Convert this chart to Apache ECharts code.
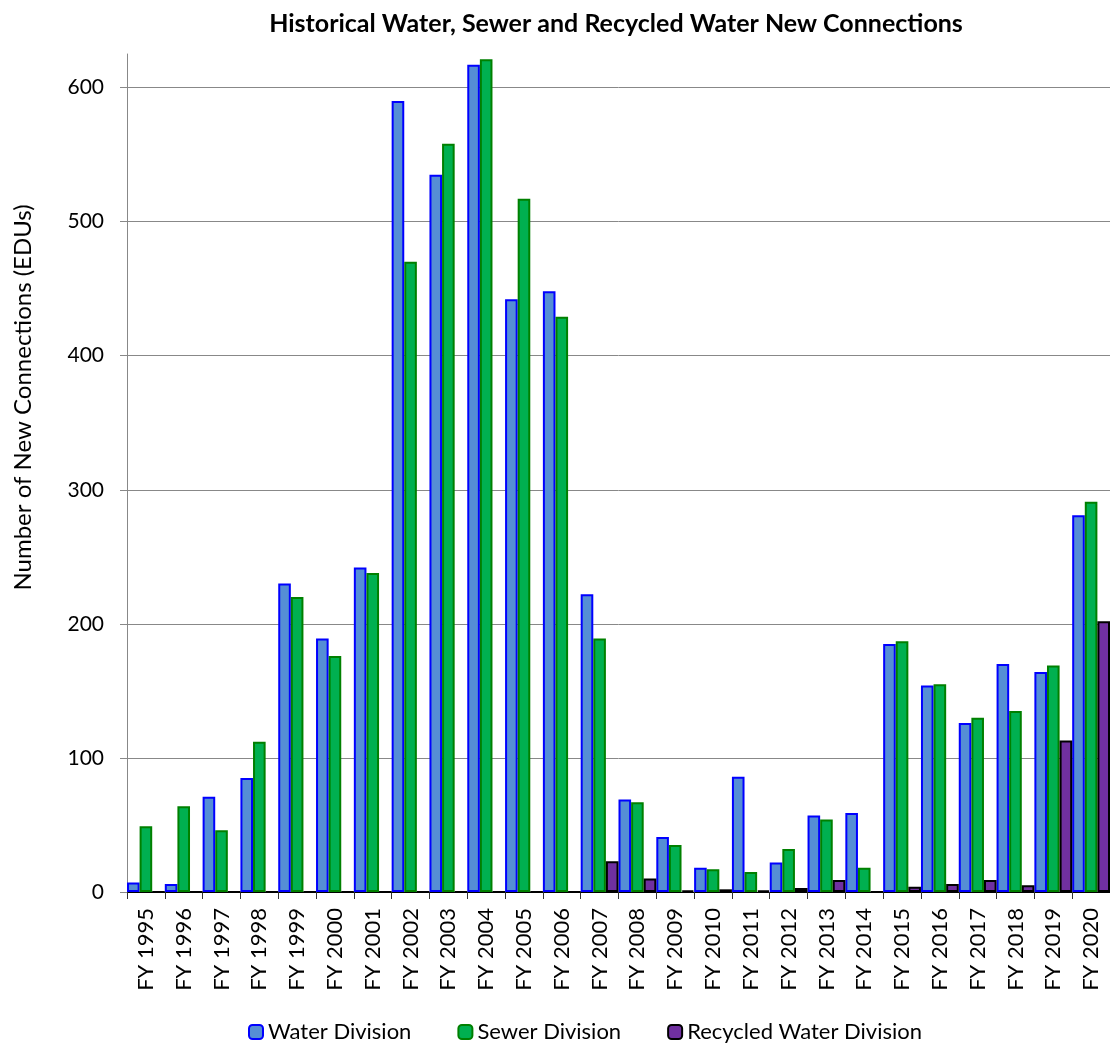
<!DOCTYPE html>
<html>
<head>
<meta charset="utf-8">
<script src="https://cdn.jsdelivr.net/npm/echarts@6/dist/echarts.min.js"></script>
<style>
html,body{margin:0;padding:0;background:#fff;}
#chart{width:1110px;height:1043px;}
</style>
</head>
<body>
<div id="chart"></div>
<script>
const categories = ['FY 1995','FY 1996','FY 1997','FY 1998','FY 1999','FY 2000','FY 2001','FY 2002','FY 2003','FY 2004','FY 2005','FY 2006','FY 2007','FY 2008','FY 2009','FY 2010','FY 2011','FY 2012','FY 2013','FY 2014','FY 2015','FY 2016','FY 2017','FY 2018','FY 2019','FY 2020'];
const waterDivision = [7,6,71,85,230,189,242,590,535,617,442,448,222,69,41,18,86,22,57,59,185,154,126,170,164,281];
const sewerDivision = [49,64,46,112,220,176,238,470,558,621,517,429,189,67,35,17,15,32,54,18,187,155,130,135,169,291];
const recycledWaterDivision = [0,0,0,0,0,0,0,0,0,0,0,0,23,10,1,2,1,3,9,0,4,6,9,5,113,202];
const yTicks = [0,100,200,300,400,500,600];
const yMax = 625;

const FONT = 'Lato, "Open Sans", sans-serif';
const chart = echarts.init(document.getElementById('chart'), null, {renderer:'canvas'});
chart.setOption({
  animation: false,
  backgroundColor: '#ffffff',
  textStyle: {fontFamily: FONT},
  title: {
    text: 'Historical Water, Sewer and Recycled Water New Connections',
    left: 611, top: 6, textAlign: 'center',
    textStyle: {fontFamily: FONT, fontSize: 25, fontWeight: 'bold', color: '#000'}
  },
  legend: {
    left: 243, top: 1016,
    itemWidth: 14, itemHeight: 14, itemGap: 46,
    textStyle: {fontFamily: FONT, fontSize: 22, color: '#000'},
    data: ['Water Division','Sewer Division','Recycled Water Division']
  },
  grid: {left: 127, right: 0, top: 54, bottom: 151, containLabel: false},
  xAxis: {
    type: 'category',
    data: categories,
    boundaryGap: true,
    axisLine: {show: true, lineStyle: {color: '#000', width: 1}},
    axisTick: {show: true, length: 7, lineStyle: {color: '#333'}},
    axisLabel: {rotate: 90, interval: 0, margin: 16, fontFamily: FONT, fontSize: 22, color: '#000'},
    splitLine: {show: false}
  },
  yAxis: {
    type: 'value',
    min: 0, max: yMax, interval: 100,
    name: 'Number of New Connections (EDUs)',
    nameLocation: 'middle', nameGap: 92, nameRotate: 90,
    nameTextStyle: {fontFamily: FONT, fontSize: 24, color: '#000', padding: [0,0,0,151]},
    axisLine: {show: true, lineStyle: {color: '#888', width: 1}},
    axisTick: {show: true, length: 7, customValues: yTicks, lineStyle: {color: '#888'}},
    axisLabel: {fontFamily: FONT, fontSize: 21, color: '#000', margin: 23, customValues: yTicks},
    splitLine: {show: false}
  },
  series: [
    {
      name: 'Water Division', type: 'bar', data: waterDivision,
      barGap: '0%', barCategoryGap: '0%',
      itemStyle: {color: '#558ED5', borderColor: '#0000FF', borderWidth: 2},
      markLine: {
        silent: true, z: 1, symbol: ['none','none'],
        label: {show: false},
        lineStyle: {color: '#888', width: 1, type: 'solid'},
        data: yTicks.filter(v => v > 0).map(v => ({yAxis: v}))
      }
    },
    {
      name: 'Sewer Division', type: 'bar', data: sewerDivision,
      barGap: '0%', barCategoryGap: '0%',
      itemStyle: {color: '#00B050', borderColor: '#008000', borderWidth: 2}
    },
    {
      name: 'Recycled Water Division', type: 'bar', data: recycledWaterDivision,
      barGap: '0%', barCategoryGap: '0%',
      itemStyle: {color: '#7030A0', borderColor: '#000000', borderWidth: 2}
    }
  ]
});
</script>
</body>
</html>
